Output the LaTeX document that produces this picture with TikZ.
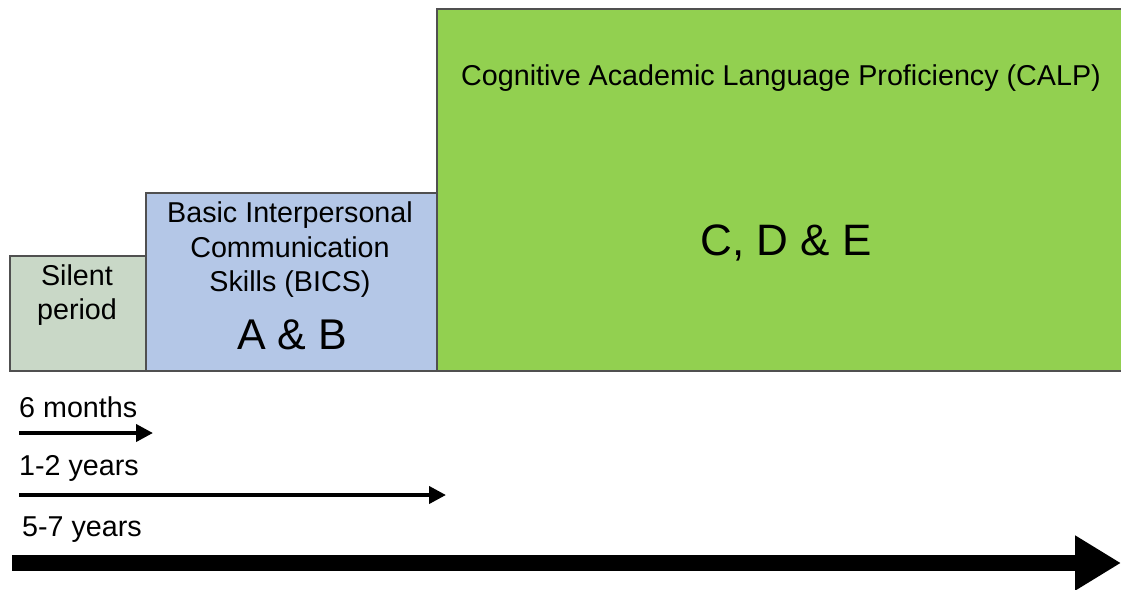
\documentclass[tikz,border=0pt]{standalone}
\usepackage{fontspec}
\setmainfont{Liberation Sans}
\usetikzlibrary{arrows.meta}
\definecolor{silentc}{RGB}{201,216,199}
\definecolor{bicsc}{RGB}{180,199,231}
\definecolor{calpc}{RGB}{146,208,80}
\definecolor{edgec}{RGB}{80,80,80}
\begin{document}
\begin{tikzpicture}[x=1pt,y=-1pt]
\tikzstyle{bx} = [draw=edgec,line width=1.5pt,anchor=north west,inner sep=0pt] %stage box
\tikzstyle{tx} = [font=\fontsize{28.7}{34.5}\selectfont,align=center,inner sep=0pt] %text
\tikzstyle{big} = [font=\fontsize{43}{50}\selectfont,inner sep=0pt] %letters
\tikzstyle{lb} = [font=\fontsize{28.7}{34}\selectfont,anchor=west,inner sep=0pt] %time label
\tikzstyle{ar} = [-{Triangle[length=17pt,width=17pt]},line width=4pt] %arrow
\useasboundingbox (0,0) rectangle (1121,589);
\node[bx,fill=silentc,minimum width=136pt,minimum height=115pt](silent)at(9,255){};
\node[bx,fill=bicsc,minimum width=291pt,minimum height=178pt](bics)at(145,192){};
\node[bx,fill=calpc,minimum width=690pt,minimum height=362pt](calp)at(436,8){};
\node[tx](tsilent)at(77,295){Silent\\period};
\node[tx](tbics)at(290,250){Basic Interpersonal\\Communication\\Skills (BICS)};
\node[big](ab)at(292,335){A \& B};
\node[tx](tcalp)at(781,78){Cognitive Academic Language Proficiency (CALP)};
\node[big,font=\fontsize{44}{50}\selectfont](cde)at(786,243){C, D \& E};
\node[lb](lsix)at(19,407){6 months};
\node[lb](lone)at(19,468){1-2 years};
\node[lb](lfive)at(22,530){5-7 years};
\coordinate(sa)at(19,433);
\coordinate(ea)at(153,433);
\coordinate(sb)at(19,495);
\coordinate(eb)at(446,495);
\coordinate(sc)at(12,563);
\coordinate(ec)at(1121,563);
\draw[ar](sa)--(ea);
\draw[ar](sb)--(eb);
\draw[-{Triangle[length=46pt,width=52pt]},line width=16pt](sc)--(ec);
\end{tikzpicture}
\end{document}
